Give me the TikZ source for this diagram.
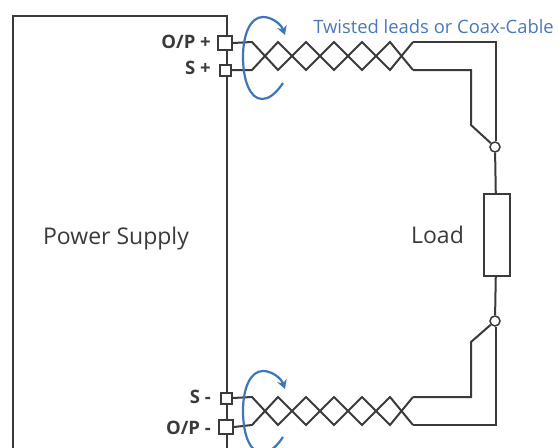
\documentclass[tikz,border=0pt]{standalone}
\usepackage{fontspec}
\setmainfont{Open Sans}
\usetikzlibrary{arrows.meta}
\definecolor{wire}{HTML}{3A3A3A}
\definecolor{twistblue}{HTML}{3F76B8}
\definecolor{captionblue}{HTML}{4A78B8}
\tikzset{
  wireline/.style={draw=wire,line width=2pt,line join=miter},
  bigterm/.style={draw=wire,fill=white,line width=2pt,minimum size=14pt,inner sep=0pt},
  smallterm/.style={draw=wire,fill=white,line width=2pt,minimum size=11pt,inner sep=0pt},
  junction/.style={circle,draw=wire,fill=white,line width=1.5pt,minimum size=10pt,inner sep=0pt},
  termlabel/.style={anchor=east,font=\fontsize{18.5}{20}\selectfont\bfseries,text=wire,inner sep=0pt},
  biglabel/.style={font=\fontsize{23}{26}\selectfont,text=wire,inner sep=0pt},
  twistarrow/.style={draw=twistblue,line width=2.2pt,-{Stealth[length=9pt,width=10pt]}},
}
\begin{document}
\begin{tikzpicture}[x=1pt,y=-1pt]
\useasboundingbox (0,0) rectangle (558,448);
\clip (0,0) rectangle (558,448);
% power supply
\node[draw=wire,line width=2pt,minimum width=214pt,minimum height=460pt,inner sep=0pt,anchor=north west] (psu) at (12,15) {};
\node[biglabel] (pslabel) at (116,239) {Power Supply};
% wire ends of twisted sections
\coordinate (a1) at (413,42);
\coordinate (a2) at (413,70);
\coordinate (b1) at (413,397);
\coordinate (b2) at (413,425);
% load
\node[draw=wire,fill=white,line width=2pt,minimum width=26pt,minimum height=82pt,inner sep=0pt] (load) at (496.5,235) {};
\node[biglabel] (loadlabel) at (437.5,235) {Load};
% terminals
\node[bigterm] (opp) at (225,43) {};
\node[smallterm] (sp) at (225,70) {};
\node[smallterm] (sm) at (226,398) {};
\node[bigterm] (opm) at (226,427) {};
\node[termlabel] (opplabel) at (211,42) {O/P +};
\node[termlabel] (splabel) at (211,68) {S +};
\node[termlabel] (smlabel) at (211,397) {S -};
\node[termlabel] (opmlabel) at (211,428) {O/P -};
\node[font=\fontsize{18.4}{20}\selectfont,text=captionblue,inner sep=0pt,anchor=east] (caption) at (554,27) {Twisted leads or Coax-Cable};
% junctions
\node[junction] (jt) at (495,147) {};
\node[junction] (jb) at (495,321) {};
% twisted pairs
\draw[wireline] (opp.east) -- (252,42) -- (278,70) -- (306,42) -- (334,70) -- (362,42) -- (390,70) -- (a1);
\draw[wireline] (sp.east) -- (252,70) -- (278,42) -- (306,70) -- (334,42) -- (362,70) -- (390,42) -- (a2);
\draw[wireline] (sm.east) -- (252,397) -- (278,425) -- (306,397) -- (334,425) -- (362,397) -- (390,425) -- (b1);
\draw[wireline] (opm.east) -- (252,425) -- (278,397) -- (306,425) -- (334,397) -- (362,425) -- (390,397) -- (b2);
% leads to the load
\draw[wireline] (a1) -- (496,42) -- (jt.north -| 496,0);
\draw[wireline] (a2) -- (471,70) -- (471,125) -- (jt);
\draw[wireline] (b1) -- (471,397) -- (471,342) -- (jb);
\draw[wireline] (b2) -- (496,425) -- (jb.south -| 496,0);
\draw[wireline] (jt) -- (load);
\draw[wireline] (load) -- (jb);
% rotation arrows
\draw[twistarrow] (283,83) .. controls (275,95) and (268,99) .. (262,99) .. controls (250,99) and (243,80) .. (243,57) .. controls (243,35) and (250,17) .. (263,17) .. controls (272,17) and (281,24) .. (285,35);
\draw[twistarrow,shift={(0,354)}] (283,83) .. controls (275,95) and (268,99) .. (262,99) .. controls (250,99) and (243,80) .. (243,57) .. controls (243,35) and (250,17) .. (263,17) .. controls (272,17) and (281,24) .. (285,35);
\end{tikzpicture}
\end{document}
